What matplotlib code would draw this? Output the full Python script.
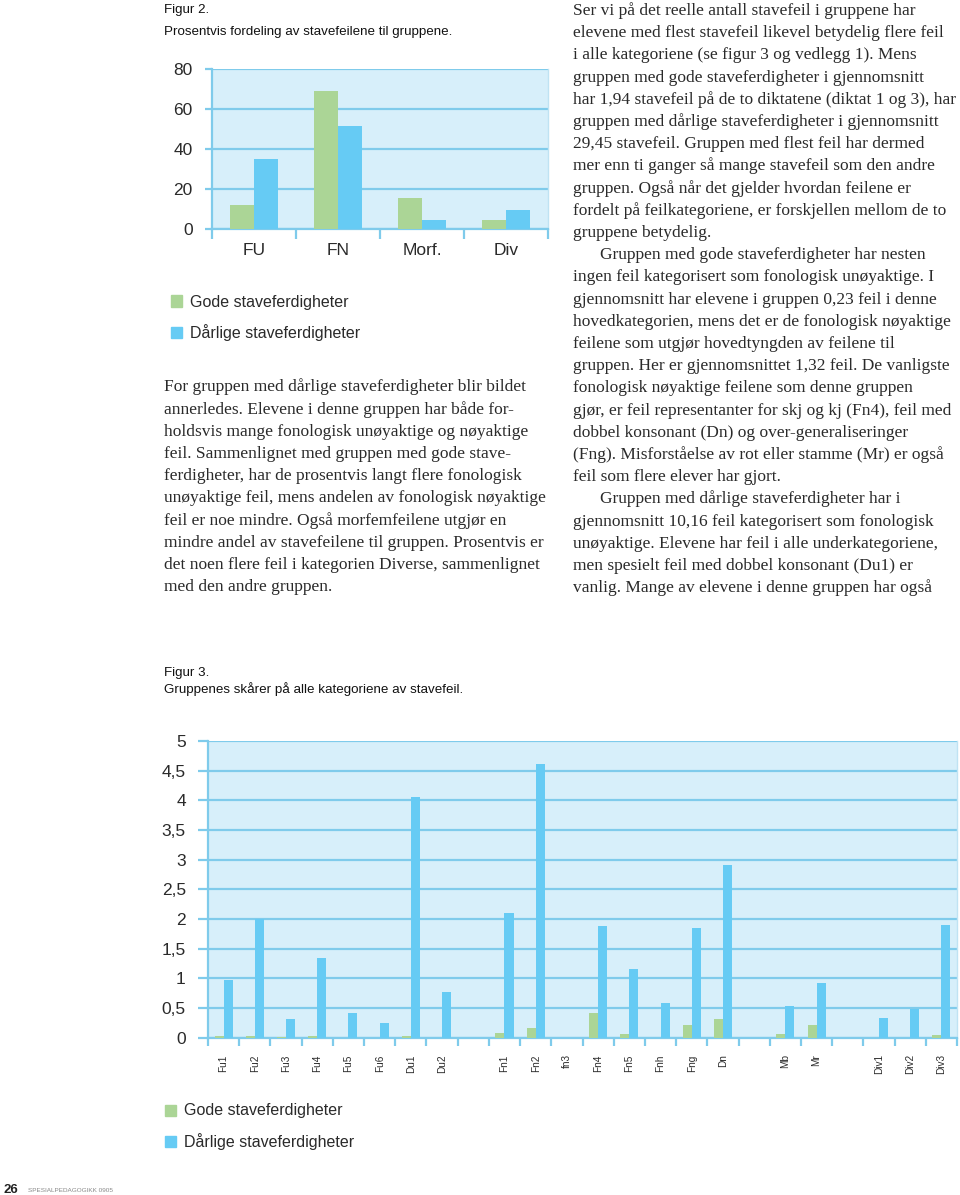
import matplotlib
matplotlib.use("Agg")
import matplotlib.pyplot as plt
from matplotlib.patches import Rectangle
import numpy as np

# ---------------- data ----------------
cats1 = ["FU", "FN", "Morf.", "Div"]
gode1 = [12.0, 68.8, 15.3, 4.7]
darl1 = [34.9, 51.5, 4.7, 9.7]
yticks1 = [0, 20, 40, 60, 80]

cats2 = ["Fu1", "Fu2", "Fu3", "Fu4", "Fu5", "Fu6", "Du1", "Du2", "",
         "Fn1", "Fn2", "fn3", "Fn4", "Fn5", "Fnh", "Fng", "Dn", "",
         "Mb", "Mr", "", "Div1", "Div2", "Div3"]
gode2 = [0.03, 0.03, 0.02, 0.03, 0.0, 0.0, 0.03, 0.0, 0.0,
         0.08, 0.16, 0.0, 0.41, 0.06, 0.0, 0.22, 0.32, 0.0,
         0.06, 0.22, 0.0, 0.0, 0.0, 0.05]
darl2 = [0.98, 2.0, 0.32, 1.34, 0.41, 0.25, 4.06, 0.77, 0.0,
         2.1, 4.61, 0.0, 1.88, 1.15, 0.58, 1.85, 2.91, 0.0,
         0.53, 0.93, 0.0, 0.34, 0.49, 1.9]
yticks2 = [0, 0.5, 1, 1.5, 2, 2.5, 3, 3.5, 4, 4.5, 5]
ylabels2 = ["0", "0,5", "1", "1,5", "2", "2,5", "3", "3,5", "4", "4,5", "5"]

legend_labels = ["Gode staveferdigheter", "Dårlige staveferdigheter"]

left_col = [
    "For gruppen med dårlige staveferdigheter blir bildet",
    "annerledes. Elevene i denne gruppen har både for-",
    "holdsvis mange fonologisk unøyaktige og nøyaktige",
    "feil. Sammenlignet med gruppen med gode stave-",
    "ferdigheter, har de prosentvis langt flere fonologisk",
    "unøyaktige feil, mens andelen av fonologisk nøyaktige",
    "feil er noe mindre. Også morfemfeilene utgjør en",
    "mindre andel av stavefeilene til gruppen. Prosentvis er",
    "det noen flere feil i kategorien Diverse, sammenlignet",
    "med den andre gruppen.",
]
right_col = [
    "Ser vi på det reelle antall stavefeil i gruppene har",
    "elevene med flest stavefeil likevel betydelig flere feil",
    "i alle kategoriene (se figur 3 og vedlegg 1). Mens",
    "gruppen med gode staveferdigheter i gjennomsnitt",
    "har 1,94 stavefeil på de to diktatene (diktat 1 og 3), har",
    "gruppen med dårlige staveferdigheter i gjennomsnitt",
    "29,45 stavefeil. Gruppen med flest feil har dermed",
    "mer enn ti ganger så mange stavefeil som den andre",
    "gruppen. Også når det gjelder hvordan feilene er",
    "fordelt på feilkategoriene, er forskjellen mellom de to",
    "gruppene betydelig.",
    "\tGruppen med gode staveferdigheter har nesten",
    "ingen feil kategorisert som fonologisk unøyaktige. I",
    "gjennomsnitt har elevene i gruppen 0,23 feil i denne",
    "hovedkategorien, mens det er de fonologisk nøyaktige",
    "feilene som utgjør hovedtyngden av feilene til",
    "gruppen. Her er gjennomsnittet 1,32 feil. De vanligste",
    "fonologisk nøyaktige feilene som denne gruppen",
    "gjør, er feil representanter for skj og kj (Fn4), feil med",
    "dobbel konsonant (Dn) og over-generaliseringer",
    "(Fng). Misforståelse av rot eller stamme (Mr) er også",
    "feil som flere elever har gjort.",
    "\tGruppen med dårlige staveferdigheter har i",
    "gjennomsnitt 10,16 feil kategorisert som fonologisk",
    "unøyaktige. Elevene har feil i alle underkategoriene,",
    "men spesielt feil med dobbel konsonant (Du1) er",
    "vanlig. Mange av elevene i denne gruppen har også",
]

# ---------------- style ----------------
W, H = 960, 1195
BG = "#d7effa"
GRID = "#7fcbeb"
GREEN = "#abd596"
BLUE = "#66cbf4"
TXT = "#2a2a2a"
SANS = ["Liberation Sans", "DejaVu Sans"]
SERIF = ["Liberation Serif", "DejaVu Serif"]

fig = plt.figure(figsize=(W / 100, H / 100), dpi=100)


def fx(x):
    return x / W


def fy(y):
    return 1 - y / H


def style_axes(ax, tick_len_y, tick_len_x, xpad):
    ax.set_facecolor(BG)
    ax.set_axisbelow(True)
    ax.yaxis.grid(True, color=GRID, linewidth=1.6)
    ax.xaxis.grid(False)
    ax.spines["top"].set_visible(False)
    ax.spines["left"].set_color(GRID)
    ax.spines["left"].set_linewidth(1.6)
    ax.spines["bottom"].set_color(GRID)
    ax.spines["bottom"].set_linewidth(1.6)
    ax.spines["right"].set_color("#bfe3f3")
    ax.spines["right"].set_linewidth(1.0)
    ax.tick_params(axis="y", direction="out", length=tick_len_y, width=1.6,
                   color=GRID, pad=9, labelcolor=TXT)
    ax.tick_params(axis="x", which="major", length=0, pad=xpad, labelcolor=TXT)
    ax.tick_params(axis="x", which="minor", direction="out", length=tick_len_x,
                   width=1.6, color=GRID)


# ---------------- Figure 2 ----------------
ax1 = fig.add_axes([fx(212), fy(229), fx(548) - fx(212), (229 - 69) / H])
x1 = np.arange(len(cats1))
bw1 = 0.28
ax1.bar(x1 - bw1 / 2, gode1, width=bw1, color=GREEN, zorder=3)
ax1.bar(x1 + bw1 / 2, darl1, width=bw1, color=BLUE, zorder=3)
ax1.set_xlim(-0.5, len(cats1) - 0.5)
ax1.set_ylim(0, 80)
ax1.set_yticks(yticks1)
ax1.set_yticklabels([str(v) for v in yticks1], fontsize=12.5, family=SANS)
ax1.set_xticks(x1)
ax1.set_xticklabels(cats1, fontsize=12.5, family=SANS)
ax1.set_xticks(np.arange(len(cats1) + 1) - 0.5, minor=True)
style_axes(ax1, 5, 7, 10)

fig.text(fx(164), fy(13), "Figur 2.", fontsize=9.6, family=SANS, color="#111")
fig.text(fx(164), fy(35), "Prosentvis fordeling av stavefeilene til gruppene.",
         fontsize=9.6, family=SANS, color="#111")

# legend 1
for i, (lab, col) in enumerate(zip(legend_labels, [GREEN, BLUE])):
    yb = 306.5 + i * 31.5
    fig.add_artist(Rectangle((fx(171), fy(yb)), 11 / W, 11 / H,
                             transform=fig.transFigure, color=col))
    fig.text(fx(190), fy(yb), lab, fontsize=11.5, family=SANS, color=TXT,
             va="baseline")

# ---------------- Figure 3 ----------------
ax2 = fig.add_axes([fx(208), fy(1037.7), fx(957) - fx(208), (1037.7 - 741) / H])
x2 = np.arange(len(cats2))
bw2 = 0.29
ax2.bar(x2 - bw2 / 2, gode2, width=bw2, color=GREEN, zorder=3)
ax2.bar(x2 + bw2 / 2, darl2, width=bw2, color=BLUE, zorder=3)
ax2.set_xlim(-0.5, len(cats2) - 0.5)
ax2.set_ylim(0, 5)
ax2.set_yticks(yticks2)
ax2.set_yticklabels(ylabels2, fontsize=12.5, family=SANS)
ax2.set_xticks(x2)
ax2.set_xticklabels(cats2, fontsize=7.2, family=SANS, rotation=90)
ax2.set_xticks(np.arange(len(cats2) + 1) - 0.5, minor=True)
style_axes(ax2, 7, 6, 12)
for lbl in ax2.get_xticklabels():
    lbl.set_va("top")

fig.text(fx(164), fy(676), "Figur 3.", fontsize=9.6, family=SANS, color="#111")
fig.text(fx(164), fy(693.5), "Gruppenes skårer på alle kategoriene av stavefeil.",
         fontsize=9.6, family=SANS, color="#111")

for i, (lab, col) in enumerate(zip(legend_labels, [GREEN, BLUE])):
    yb = 1115.5 + i * 31.5
    fig.add_artist(Rectangle((fx(165), fy(yb)), 11 / W, 11 / H,
                             transform=fig.transFigure, color=col))
    fig.text(fx(184), fy(yb), lab, fontsize=11.5, family=SANS, color=TXT,
             va="baseline")

# ---------------- body text ----------------
BODY = 12.5
LS = 22.2
for i, line in enumerate(left_col):
    fig.text(fx(164), fy(391.5 + i * LS), line, fontsize=BODY, family=SERIF,
             color=TXT, va="baseline")
for i, line in enumerate(right_col):
    x = 573
    if line.startswith("\t"):
        line = line[1:]
        x = 600
    fig.text(fx(x), fy(15 + i * LS), line, fontsize=BODY, family=SERIF,
             color=TXT, va="baseline")

# footer
fig.text(fx(3), fy(1193), "26", fontsize=9.5, family=SANS, weight="bold",
         color="#222", va="baseline")
fig.text(fx(28), fy(1192.5), "SPESIALPEDAGOGIKK 0905", fontsize=4.6,
         family=SANS, color="#888", va="baseline")

fig.savefig("out.png", dpi=100, facecolor="white")
